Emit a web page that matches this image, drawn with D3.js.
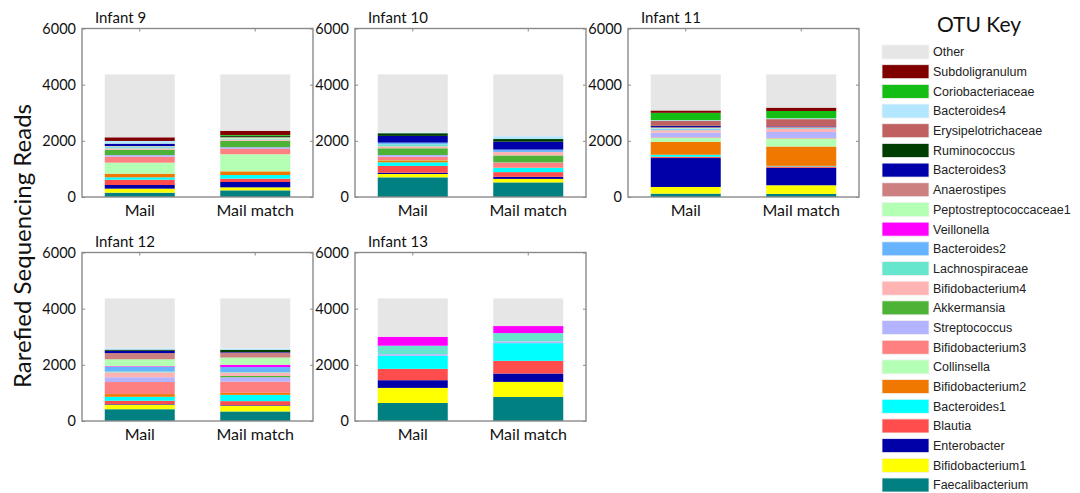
<!DOCTYPE html>
<html>
<head>
<meta charset="utf-8">
<script src="https://cdn.jsdelivr.net/npm/d3@7"></script>
<style>
  html, body { margin: 0; padding: 0; background: #fff; }
  svg { display: block; }
  text { font-family: Lato, "Open Sans", "Liberation Sans", sans-serif; }
  text.legend-label { font-family: "Liberation Sans", Arial, sans-serif; }
</style>
</head>
<body>
<svg id="chart" width="1080" height="493"></svg>
<script>
// Stack order, bottom to top
const otuNames = [
  "Faecalibacterium", "Bifidobacterium1", "Enterobacter", "Blautia", "Bacteroides1",
  "Bifidobacterium2", "Collinsella", "Bifidobacterium3", "Streptococcus", "Akkermansia",
  "Bifidobacterium4", "Lachnospiraceae", "Bacteroides2", "Veillonella", "Peptostreptococcaceae1",
  "Anaerostipes", "Bacteroides3", "Ruminococcus", "Erysipelotrichaceae", "Bacteroides4",
  "Coriobacteriaceae", "Subdoligranulum", "Other"
];
const otuColors = [
  "#008080", "#ffff00", "#0000a8", "#ff4d4d", "#00ffff",
  "#f07800", "#b3ffb3", "#ff8080", "#b3b3ff", "#4db336",
  "#ffb3b3", "#66e6cc", "#66b3ff", "#ff00ff", "#b3ffb3",
  "#cc8080", "#0000aa", "#003d00", "#c06060", "#b3e6ff",
  "#14be14", "#800000", "#e6e6e6"
];

const infants = ["Infant 9", "Infant 10", "Infant 11", "Infant 12", "Infant 13"];
const samples = ["Mail", "Mail match"];
const yTicks = [0, 2000, 4000, 6000];

// Reads per OTU, same order as otuNames
const infant9Mail       = [154, 143, 130, 190, 83, 130, 392, 213, 59, 190, 47, 40, 20, 0, 15, 10, 75, 10, 0, 95, 0, 130, 2239];
const infant9MailMatch  = [237, 107, 190, 119, 130, 130, 610, 190, 59, 230, 47, 15, 10, 0, 40, 15, 0, 40, 10, 0, 30, 150, 2006];
const infant10Mail      = [700, 119, 47, 240, 130, 71, 10, 119, 59, 240, 71, 71, 59, 0, 0, 0, 240, 95, 0, 30, 0, 0, 2064];
const infant10MailMatch = [520, 125, 75, 166, 150, 10, 0, 175, 10, 250, 125, 0, 83, 0, 0, 0, 280, 95, 0, 100, 0, 0, 2201];
const infant11Mail      = [120, 237, 1030, 47, 71, 460, 142, 20, 166, 0, 83, 20, 40, 0, 20, 30, 40, 15, 166, 30, 261, 83, 1284];
const infant11MailMatch = [110, 308, 620, 50, 20, 690, 285, 20, 213, 0, 107, 20, 20, 0, 0, 30, 20, 0, 260, 30, 260, 119, 1183];
const infant12Mail      = [420, 162, 20, 119, 142, 95, 0, 430, 170, 0, 175, 30, 160, 25, 250, 220, 83, 40, 0, 45, 0, 0, 1779];
const infant12MailMatch = [340, 205, 20, 142, 225, 71, 0, 400, 154, 47, 119, 20, 178, 83, 255, 175, 20, 80, 0, 50, 0, 0, 1781];
const infant13Mail      = [643, 536, 274, 404, 464, 0, 0, 0, 60, 0, 0, 300, 0, 320, 0, 0, 0, 0, 0, 0, 0, 0, 1364];
const infant13MailMatch = [857, 536, 298, 452, 630, 0, 0, 0, 60, 0, 0, 298, 0, 250, 0, 0, 0, 0, 0, 0, 0, 0, 984];

const panelData = [
  [infant9Mail, infant9MailMatch],
  [infant10Mail, infant10MailMatch],
  [infant11Mail, infant11MailMatch],
  [infant12Mail, infant12MailMatch],
  [infant13Mail, infant13MailMatch]
];

const svg = d3.select("#chart");

// Panel frames: two rows, three columns
const panelW = 231, panelH = 168.5;
const colX = [82, 355, 628];
const rowY = [28.5, 252.5];
const frameColor = "#8a8a8a";

infants.forEach((name, i) => {
  const x0 = colX[i % 3];
  const y0 = rowY[Math.floor(i / 3)];
  const g = svg.append("g").attr("transform", `translate(${x0},${y0})`);

  const x = d3.scaleBand().domain(samples).range([0, panelW])
    .paddingInner(0.394).paddingOuter(0.197);
  const y = d3.scaleLinear().domain([0, 6000]).range([panelH, 0]);

  // Stacked bars
  const rows = samples.map((s, j) => {
    const r = { sample: s };
    otuNames.forEach((o, k) => { r[o] = panelData[i][j][k]; });
    return r;
  });
  const stack = d3.stack().keys(otuNames)(rows);

  g.selectAll("g.layer").data(stack).join("g")
    .attr("class", "layer")
    .attr("fill", (d, k) => otuColors[k])
    .selectAll("rect").data(d => d).join("rect")
    .attr("x", d => x(d.data.sample))
    .attr("width", x.bandwidth())
    .attr("y", d => y(d[1]))
    .attr("height", d => Math.max(0, y(d[0]) - y(d[1])));

  // Left axis with tick labels
  const yAxis = g.append("g").call(
    d3.axisLeft(y).tickValues(yTicks).tickSize(-3).tickPadding(6).tickFormat(d3.format("d")));
  yAxis.select(".domain").remove();
  yAxis.selectAll("line").attr("stroke", frameColor);
  yAxis.selectAll("text").attr("font-size", 14.5).attr("fill", "#111");

  // Right axis ticks
  const yAxisR = g.append("g").attr("transform", `translate(${panelW},0)`)
    .call(d3.axisRight(y).tickValues(yTicks).tickSize(-3).tickFormat(""));
  yAxisR.select(".domain").remove();
  yAxisR.selectAll("line").attr("stroke", frameColor);

  // Bottom axis with category labels
  const xAxis = g.append("g").attr("transform", `translate(0,${panelH})`)
    .call(d3.axisBottom(x).tickSize(0).tickPadding(8));
  xAxis.select(".domain").remove();
  xAxis.selectAll("text").attr("font-size", 16).attr("fill", "#111");

  // Top axis ticks
  const xAxisT = g.append("g").call(d3.axisTop(x).tickSize(-3).tickFormat(""));
  xAxisT.select(".domain").remove();
  xAxisT.selectAll("line").attr("stroke", frameColor);

  // Frame
  g.append("rect")
    .attr("width", panelW).attr("height", panelH)
    .attr("fill", "none").attr("stroke", frameColor).attr("stroke-width", 1.4);

  // Panel title
  g.append("text")
    .attr("x", 13).attr("y", -6)
    .attr("font-size", 15).attr("fill", "#111")
    .text(name);
});

// Shared y-axis title
svg.append("text")
  .attr("transform", "translate(31,246) rotate(-90)")
  .attr("text-anchor", "middle")
  .attr("font-size", 24).attr("fill", "#111")
  .text("Rarefied Sequencing Reads");

// Legend, top entry is the top of the stack
const legend = svg.append("g");
legend.append("text")
  .attr("x", 979).attr("y", 32)
  .attr("text-anchor", "middle")
  .attr("font-size", 21).attr("fill", "#111")
  .text("OTU Key");

const legendItems = otuNames.map((n, k) => ({ name: n, color: otuColors[k] })).reverse();
const ly = d3.scalePoint().domain(legendItems.map(d => d.name)).range([52, 485]);

const item = legend.selectAll("g.item").data(legendItems).join("g")
  .attr("class", "item")
  .attr("transform", d => `translate(0,${ly(d.name)})`);
item.append("rect")
  .attr("x", 882).attr("y", -7).attr("width", 47).attr("height", 14)
  .attr("fill", d => d.color)
  .attr("stroke", "#f2f2f2").attr("stroke-width", 0.8);
item.append("text")
  .attr("class", "legend-label")
  .attr("x", 933).attr("y", 0).attr("dy", "0.35em")
  .attr("font-size", 12.5).attr("fill", "#222")
  .text(d => d.name);
</script>
</body>
</html>
